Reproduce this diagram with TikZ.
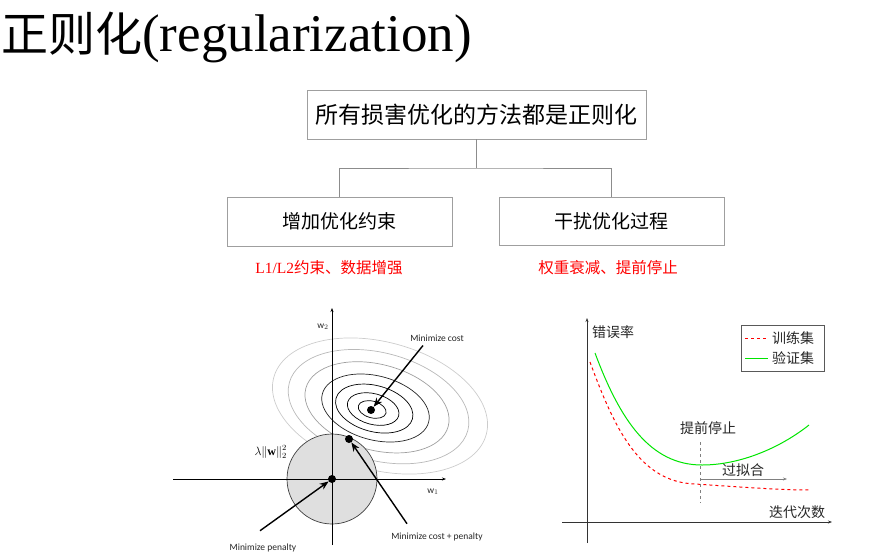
\documentclass[tikz,border=0pt]{standalone}
\usepackage{amsmath,amssymb}
\usepackage{fontspec}
\setmainfont{Liberation Serif}
\newfontfamily\cjk{Noto Sans CJK SC}
\newfontfamily\notefont{Carlito}
\usetikzlibrary{positioning, calc, arrows.meta}

\tikzset{
    optbox/.style={draw=gray!75, line width=0.9pt, fill=white, inner sep=0pt},
    tree/.style={draw=gray!90, line width=0.9pt},
    extext/.style={text=red, inner sep=1pt, font=\fontsize{15.5}{18}\selectfont},
    dot/.style={circle, fill=black, inner sep=0pt, minimum size=8pt},
    pointer/.style={-{Stealth[length=9pt,width=7pt]}, line width=1.4pt},
    axis/.style={-{Stealth[length=4pt,width=3pt]}, line width=0.6pt},
    note/.style={inner sep=1pt, text=black!85, font=\notefont\fontsize{9.5}{11}\selectfont},
    chartlabel/.style={inner sep=1pt, text=black!85, font=\cjk\fontsize{14}{16}\selectfont},
    trainline/.style={draw=red, dashed, line width=1pt},
    valline/.style={draw=green!90!black, line width=1pt},
}

\begin{document}
\begin{tikzpicture}[x=1pt, y=-1pt]
    \useasboundingbox (0,0) rectangle (895,555);

    % ==========================================
    % TITLE
    % ==========================================
    \node[anchor=base west, inner sep=0pt] (title) at (1,51)
        {{\cjk\fontsize{47}{50}\selectfont 正则化}{\fontsize{53}{56}\selectfont(regularization)}};

    % ==========================================
    % TREE OF METHODS
    % ==========================================
    \node[optbox, minimum width=339pt, minimum height=49pt, font=\cjk\fontsize{23}{26}\selectfont]
        (root) at (476.5,114.5) {所有损害优化的方法都是正则化};
    \node[optbox, minimum width=225pt, minimum height=49pt, font=\cjk\fontsize{19}{22}\selectfont]
        (constr) at (339.5,221.5) {增加优化约束};
    \node[optbox, minimum width=225pt, minimum height=48pt, font=\cjk\fontsize{19}{22}\selectfont]
        (perturb) at (611.5,221) {干扰优化过程};

    \coordinate (split) at (476.5,168);
    \draw[tree] (root.south) -- (split);
    \draw[tree] (constr.north) |- (split) -| (perturb.north);

    % Examples (red)
    \node[extext] (constrex) at (329,268) {L1/L2{\cjk 约束、数据增强}};
    \node[extext] (perturbex) at (608,268) {{\cjk 权重衰减、提前停止}};

    % ==========================================
    % LEFT FIGURE: L2 penalty and cost contours
    % ==========================================
    % Cost contours (outer ones lighter)
    \foreach \s/\c in {1.0/gray!40, 0.84/gray!55, 0.67/gray!75, 0.5/black!85, 0.36/black, 0.24/black, 0.13/black}
        \draw[\c, line width=0.7pt, shift={({371+9*\s},{410-4*\s})}, rotate=-15]
            (0,0) ellipse [x radius=110*\s, y radius=64*\s];

    % Penalty ball
    \draw[draw=black!75, fill=gray!25, line width=0.7pt] (332,479) circle [radius=45];

    % Axes
    \coordinate (w1start) at (173,479);
    \coordinate (w1end) at (446,479);
    \coordinate (w2start) at (332,545);
    \coordinate (w2end) at (332,308);
    \draw[axis] (w1start) -- (w1end);
    \draw[axis] (w2start) -- (w2end);
    \node[note] (w2lbl) at (323,327) {w$_2$};
    \node[note] (w1lbl) at (433,492) {w$_1$};

    % Points and labels
    \node[dot] (costmin) at (371,410) {};
    \node[dot] (tangent) at (349,439) {};
    \node[dot] (penmin) at (332,479) {};
    \node[note] (costlbl) at (437,338) {Minimize cost};
    \node[note] (bothlbl) at (437,537) {Minimize cost + penalty};
    \node[note] (penlbl) at (263,548) {Minimize penalty};
    \node[anchor=east, inner sep=0pt, font=\fontsize{12}{14}\selectfont] (ridge) at (287,452) {$\lambda\|\mathbf{w}\|_2^2$};

    \draw[pointer] ($(costlbl.south)+(-14,3)$) -- (costmin);
    \draw[pointer] ($(bothlbl.north)+(-30,-8)$) -- (tangent);
    \draw[pointer] ($(penlbl.north)+(-3,-12)$) -- (penmin);

    % ==========================================
    % RIGHT FIGURE: early stopping
    % ==========================================
    \coordinate (xstart) at (562,522);
    \coordinate (xend) at (832,522);
    \coordinate (ystart) at (587,543);
    \coordinate (yend) at (587,318);
    \draw[axis, black!80] (xstart) -- (xend);
    \draw[axis, black!80] (ystart) -- (yend);
    \node[chartlabel] (errlbl) at (613,332) {错误率};
    \node[chartlabel] (iterlbl) at (797,512) {迭代次数};

    % Legend
    \node[draw=black!65, line width=0.8pt, minimum width=83pt, minimum height=46pt, inner sep=0pt]
        (legend) at (782.5,348) {};
    \coordinate (trainkey) at (745,338);
    \coordinate (valkey) at (745,358);
    \draw[trainline] (trainkey) -- ++(23,0);
    \draw[valline] (valkey) -- ++(23,0);
    \node[chartlabel, anchor=west] (trainlbl) at (771,338) {训练集};
    \node[chartlabel, anchor=west] (vallbl) at (771,358) {验证集};

    % Error curves
    \draw[valline] (595,353) .. controls (620,420) and (650,465) .. (702,465)
        .. controls (740,465) and (780,448) .. (809,425);
    \draw[trainline] (590,362) .. controls (615,430) and (640,482) .. (695,484)
        .. controls (740,487) and (780,490) .. (810,490);

    % Early stopping marker
    \node[chartlabel] (stoplbl) at (708,428) {提前停止};
    \coordinate (stoptop) at (700,442);
    \coordinate (stopbot) at (700,503);
    \draw[gray, dashed, line width=0.8pt] (stoptop) -- (stopbot);
    \coordinate (overfit) at (700,479);
    \draw[axis, gray] (overfit) -- ++(87,0);
    \node[chartlabel] (overlbl) at (743,470) {过拟合};

\end{tikzpicture}
\end{document}
